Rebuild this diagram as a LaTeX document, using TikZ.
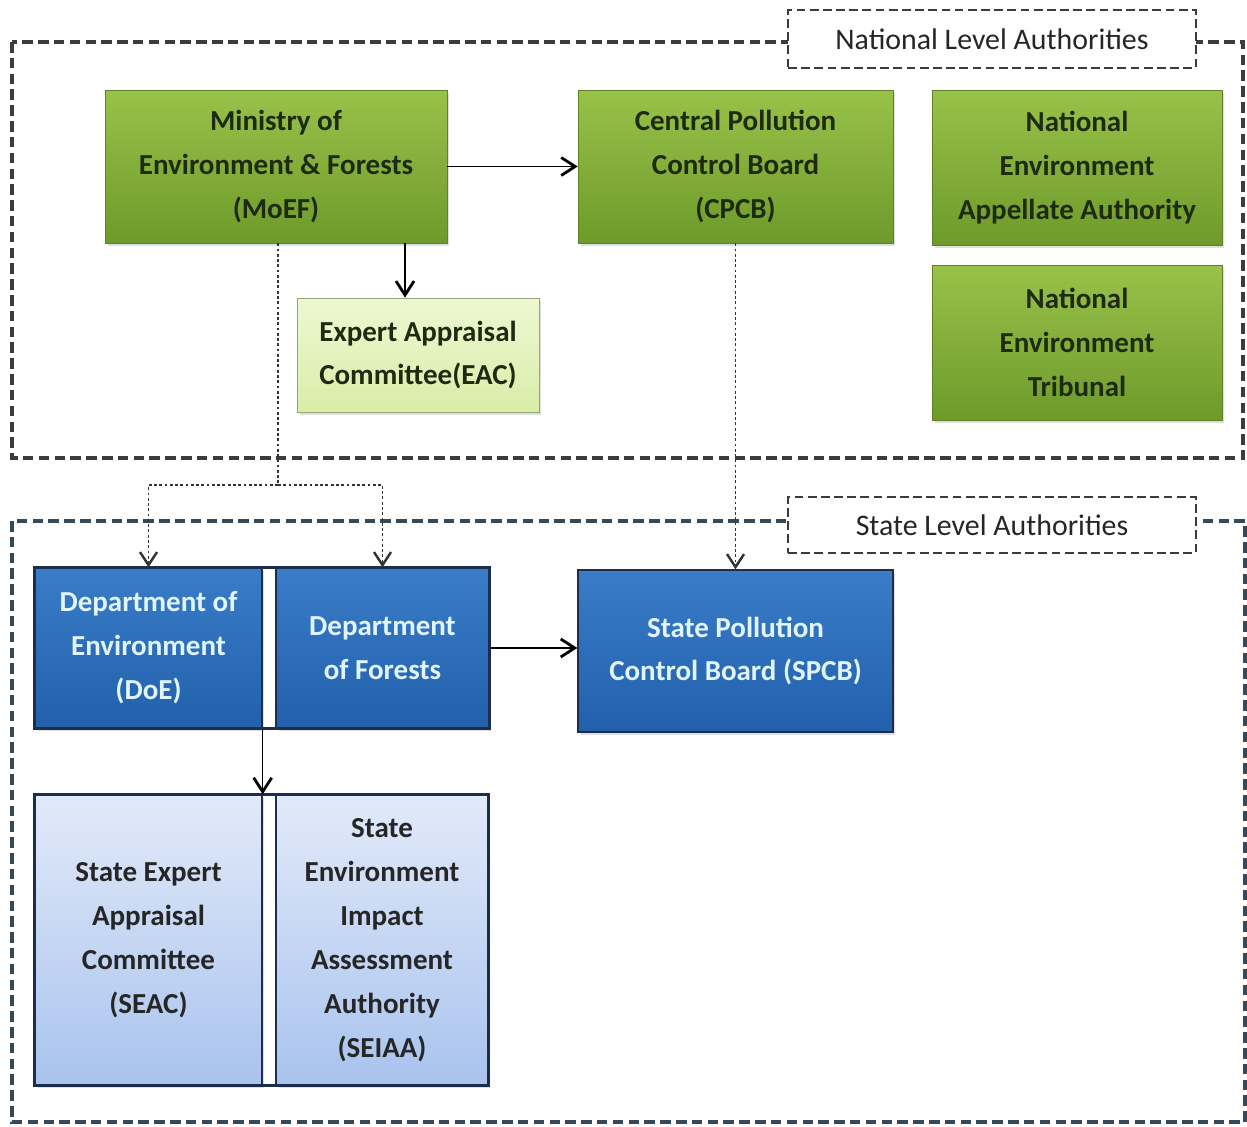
\documentclass[tikz,border=0pt]{standalone}
\usepackage{fontspec}
\setmainfont{Carlito}
\usepackage{tikz}
\usetikzlibrary{calc,positioning,arrows.meta,shadows}

\definecolor{grtop}{HTML}{98C249}
\definecolor{grbot}{HTML}{6E9A2B}
\definecolor{gtext}{HTML}{1E2B12}
\definecolor{lgtop}{HTML}{EEF8D2}
\definecolor{lgbot}{HTML}{D9EDA8}
\definecolor{bltop}{HTML}{3A7CC8}
\definecolor{blbot}{HTML}{2260AB}
\definecolor{bdark}{HTML}{1C2E4C}
\definecolor{lbtop}{HTML}{E2EAF9}
\definecolor{lbbot}{HTML}{A9C3EE}
\definecolor{natframe}{HTML}{3C3C3C}
\definecolor{stframe}{HTML}{34495A}

\begin{document}
\begin{tikzpicture}[x=0.02cm,y=-0.02cm,
  every node/.style={font=\fontsize{16.5}{25}\selectfont\bfseries, align=center, inner sep=0pt},
  greenbox/.style={rectangle, top color=grtop, bottom color=grbot, draw=grbot!85!black, line width=0.3pt, text=gtext,
    drop shadow={opacity=0.25, shadow xshift=0.5mm, shadow yshift=-0.6mm}},
  lightgreen/.style={rectangle, top color=lgtop, bottom color=lgbot, draw=lgbot!70!black, line width=0.4pt, text=gtext,
    drop shadow={opacity=0.25, shadow xshift=0.5mm, shadow yshift=-0.6mm}},
  bluebox/.style={rectangle, top color=bltop, bottom color=blbot, draw=bdark, line width=0.8pt, text=white!88!cyan,
    drop shadow={opacity=0.25, shadow xshift=0.5mm, shadow yshift=-0.6mm}},
  lightblue/.style={rectangle, top color=lbtop, bottom color=lbbot, draw=bdark, line width=0.8pt, text=black!85,
    drop shadow={opacity=0.25, shadow xshift=0.5mm, shadow yshift=-0.6mm}},
  levelbox/.style={rectangle, fill=white, draw=natframe, line width=1.5pt, dash pattern=on 5pt off 2.5pt,
    minimum width=8.16cm, font=\fontsize{17}{25}\selectfont\mdseries, text=black!85},
  frame/.style={line width=2pt, dash pattern=on 6pt off 3pt},
  arr/.style={line width=0.9pt, -{Straight Barb[length=2.8mm,width=3.6mm,line width=1.6pt]}},
  dotline/.style={line width=0.7pt, draw=black!80, dash pattern=on 1.6pt off 1.4pt},
  dotarr/.style={dotline, -{Straight Barb[length=2.6mm,width=3.4mm,line width=1.4pt]}}
]

\useasboundingbox (0,0) rectangle (1247,1126);

\draw[frame, natframe] (12,42) rectangle (1243,458);
\draw[frame, stframe] (12,521) rectangle (1245,1122);

\node[levelbox, minimum height=1.16cm] (natl) at (992,39) {National Level Authorities};
\node[levelbox, minimum height=1.12cm] (statel) at (992,525) {State Level Authorities};

\node[greenbox, minimum width=6.84cm, minimum height=3.06cm] (moef) at (276,166.5) {Ministry of\\Environment \& Forests\\(MoEF)};
\node[greenbox, minimum width=6.3cm, minimum height=3.06cm] (cpcb) at (735.5,166.5) {Central Pollution\\Control Board\\(CPCB)};
\node[greenbox, minimum width=5.8cm, minimum height=3.1cm] (neaa) at (1077,167.5) {National\\Environment\\Appellate Authority};
\node[greenbox, minimum width=5.8cm, minimum height=3.1cm] (net) at (1077,342.5) {National\\Environment\\Tribunal};
\node[lightgreen, minimum width=4.84cm, minimum height=2.28cm] (eac) at (418,355) {Expert Appraisal\\Committee(EAC)};

\node[bluebox, minimum width=4.54cm, minimum height=3.2cm] (doe) at (148.5,648) {Department of\\Environment\\(DoE)};
\node[bluebox, minimum width=4.26cm, minimum height=3.2cm] (dof) at (382.5,648) {Department\\of Forests};
\node[bluebox, minimum width=6.3cm, minimum height=3.24cm] (spcb) at (735.5,651) {State Pollution\\Control Board (SPCB)};
\node[lightblue, minimum width=4.54cm, minimum height=5.8cm] (seac) at (148.5,940) {State Expert\\Appraisal\\Committee\\(SEAC)};
\node[lightblue, minimum width=4.24cm, minimum height=5.8cm] (seiaa) at (382,940) {State\\Environment\\Impact\\Assessment\\Authority\\(SEIAA)};

\draw[bdark, line width=1.4pt] (doe.north west) rectangle (dof.south east);
\draw[bdark, line width=1.4pt] (seac.north west) rectangle (seiaa.south east);

\coordinate (eacin) at ($(eac.north)+(-13,0)$);
\coordinate (split) at (278,485);

\draw[arr] (moef) -- (cpcb);
\draw[arr] (moef.south -| eacin) -- (eacin);
\draw[dotline] (moef.south -| split) -- (split);
\draw[dotarr] (split) -| (doe.north);
\draw[dotarr] (split) -| (dof.north);
\draw[dotarr] (cpcb) -- (spcb);
\draw[arr] (dof.east) -- (dof.east -| spcb.west);
\draw[arr] (doe.south east) -- (seac.north east);

\end{tikzpicture}
\end{document}
